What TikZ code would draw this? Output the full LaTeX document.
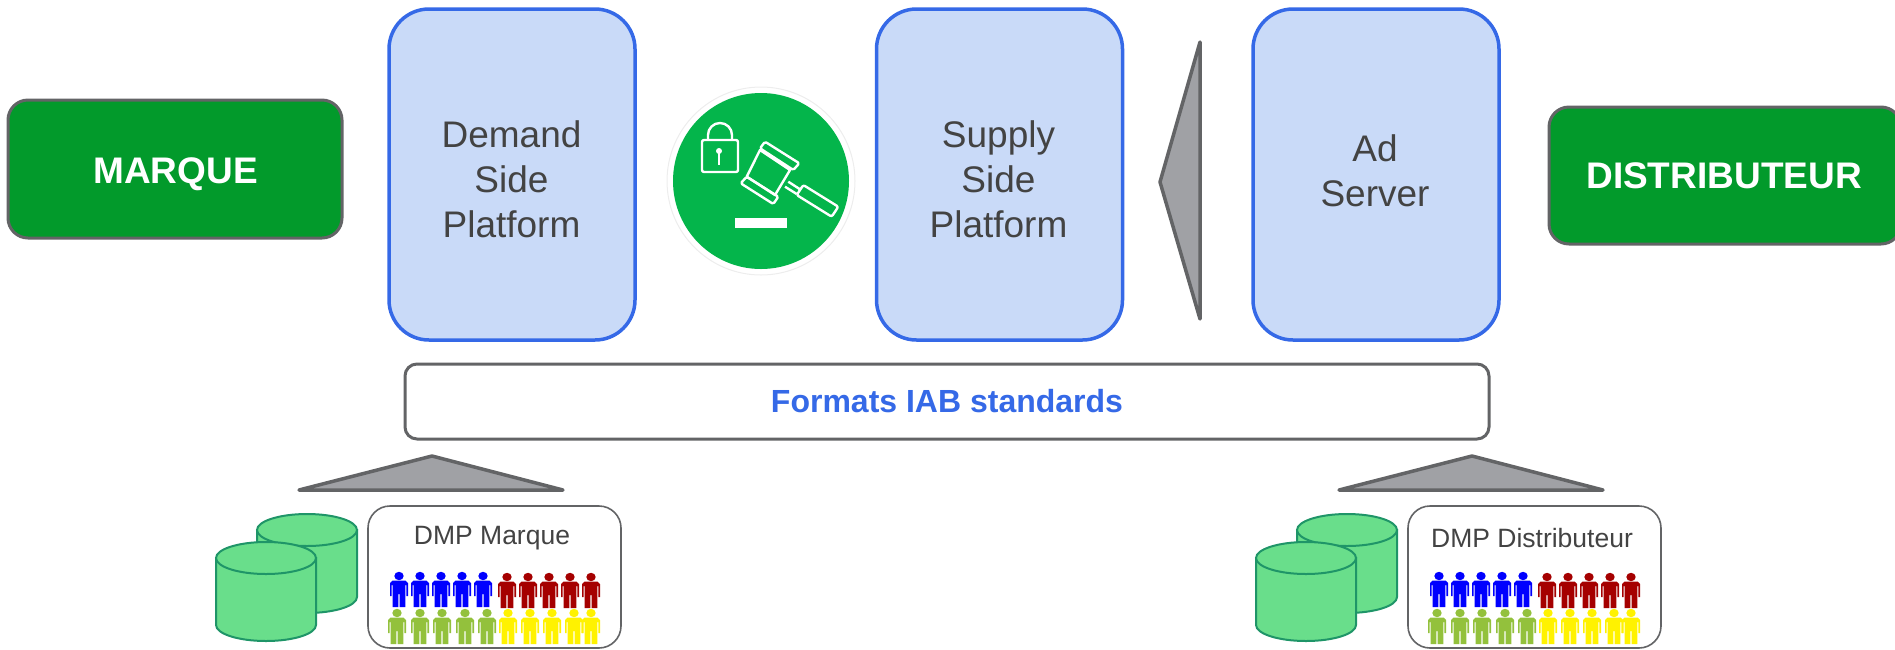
\documentclass[tikz,border=0pt]{standalone}
\usepackage{fontspec}
\setmainfont{Liberation Sans}
\definecolor{platformfill}{HTML}{C9DAF8}
\definecolor{platformline}{HTML}{3569E7}
\definecolor{actorfill}{HTML}{029A2B}
\definecolor{darkline}{HTML}{636466}
\definecolor{arrowfill}{HTML}{A0A1A5}
\definecolor{textgray}{HTML}{434343}
\definecolor{gavelgreen}{HTML}{04B54B}
\definecolor{cylfill}{HTML}{69DE8B}
\definecolor{cylline}{HTML}{1F9568}
\definecolor{crowdred}{HTML}{A50000}
\definecolor{crowdgreen}{HTML}{93C13C}
\tikzset{
	platform/.style={draw=platformline, fill=platformfill, line width=3.5pt, rounded corners=40pt, minimum width=246pt, minimum height=331pt, outer sep=0pt, inner sep=0pt},
	platformtext/.style={align=center, text=textgray, font=\fontsize{37}{44.8}\selectfont, inner sep=0pt},
	actor/.style={draw=darkline, fill=actorfill, line width=3pt, rounded corners=20pt, outer sep=0pt, inner sep=0pt},
	actortext/.style={text=white, font=\fontsize{37}{44}\selectfont\bfseries, inner sep=0pt},
	wedge/.style={draw=darkline, fill=arrowfill, line width=3.5pt, line join=round, line cap=round},
	dmpbox/.style={draw=darkline, fill=white, line width=1.6pt, rounded corners=22pt, minimum width=253pt, minimum height=142pt, outer sep=0pt, inner sep=0pt},
	dmptext/.style={text=textgray, font=\fontsize{26.5}{30}\selectfont, inner sep=0pt},
	cyl/.style={draw=cylline, fill=cylfill, line width=2pt},
	iconline/.style={draw=white, line width=2.4pt, line join=round}
}
\def\cylinder(#1,#2){
	\draw[cyl] (#1-50, #2) -- (#1-50, #2+67) arc[start angle=180, end angle=360, x radius=50pt, y radius=16pt] -- (#1+50, #2) -- cycle;
	\draw[cyl] (#1, #2) ellipse[x radius=50pt, y radius=16pt];
}
\def\personfig(#1,#2)#3{
	\fill[#3] (#1, #2+4) ellipse[x radius=4.7pt, y radius=4.2pt];
	\fill[#3] (#1-6.5, #2+8.5) -- (#1+6.5, #2+8.5) -- (#1+9, #2+11) -- (#1+9, #2+24) -- (#1+7.3, #2+24) -- (#1+7.3, #2+13) -- (#1+6.3, #2+13) -- (#1+6.3, #2+35) -- (#1+0.6, #2+35) -- (#1+0.6, #2+22) -- (#1-0.6, #2+22) -- (#1-0.6, #2+35) -- (#1-6.3, #2+35) -- (#1-6.3, #2+13) -- (#1-7.3, #2+13) -- (#1-7.3, #2+24) -- (#1-9, #2+24) -- (#1-9, #2+11) -- cycle;
}

\begin{document}
\begin{tikzpicture}[x=1pt, y=-1pt]
	\useasboundingbox (0, 0) rectangle (1895, 649);
	
	% platforms
	\node[platform] (demand) at (512, 174.5) {};
	\node[platformtext] (demandtext) at (511.5, 179) {Demand\\Side\\Platform};
	\node[platform] (supply) at (999.5, 174.5) {};
	\node[platformtext] (supplytext) at (998.5, 179) {Supply\\Side\\Platform};
	\node[platform] (adserver) at (1376, 174.5) {};
	\node[platformtext] (adservertext) at (1375, 171) {Ad\\Server};
	
	% the two ends
	\node[actor, minimum width=334pt, minimum height=138pt] (marque) at (175, 169) {};
	\node[actortext] (marquetext) at (175.5, 174) {MARQUE};
	\node[actor, minimum width=352pt, minimum height=137pt] (distributeur) at (1725, 175.5) {};
	\node[actortext] (distributeurtext) at (1724, 175.5) {DISTRIBUTEUR};
	
	\node[draw=darkline, fill=white, line width=3pt, rounded corners=12pt, minimum width=1084pt, minimum height=75pt, text=platformline, font=\fontsize{32}{36}\selectfont\bfseries, outer sep=0pt] (formats) at (947, 401.5) {Formats IAB standards};
	
	% arrow between supply side and ad server
	\draw[wedge] (1200, 42) -- (1160, 182) -- (1200, 319) -- cycle;
	
	% auction badge
	\draw[draw=black!7, fill=white, line width=1pt] (761, 181) circle (94pt);
	\fill[gavelgreen] (761, 181) circle (88pt);
	\draw[iconline, rounded corners=2pt] (702, 140) rectangle (738, 172);
	\draw[iconline] (708, 140) -- (708, 135) arc[start angle=180, end angle=0, x radius=12pt, y radius=12pt] -- (732, 140);
	\fill[white] (719, 151) circle (3pt);
	\draw[white, line width=2.4pt] (719, 151) -- (719, 165);
	\draw[iconline, rounded corners=1.5pt] (765, 141.7) -- (799.3, 163.3) -- (793.3, 170) -- (760, 148.3) -- cycle;
	\draw[iconline] (760, 150) -- (790, 170) -- (775, 195) -- (746.7, 176.7) -- cycle;
	\draw[iconline, rounded corners=1.5pt] (746.7, 176.7) -- (778.3, 196.7) -- (773.3, 204) -- (740.7, 183.3) -- cycle;
	\draw[iconline, rounded corners=2pt] (803.3, 185) -- (838.3, 206.7) -- (831.7, 216.7) -- (796.7, 195) -- cycle;
	\draw[iconline] (788.3, 181.7) -- (800, 189.3);
	\draw[iconline] (785, 186.7) -- (796.7, 194);
	\fill[white] (735, 218.3) rectangle (787.3, 228.3);
	
	% data management groups
	\foreach \dx/\dmpname/\dmplabel in {0/dmpmarque/DMP Marque, 1040/dmpdistrib/DMP Distributeur} {
		\draw[wedge] (299+\dx, 490) -- (432+\dx, 456) -- (563+\dx, 490) -- cycle;
		\cylinder(307+\dx, 530)
		\cylinder(266+\dx, 558)
		\node[dmpbox] (\dmpname) at (494.5+\dx, 577) {};
		\node[dmptext] (\dmpname text) at (492+\dx, 538.5) {\dmplabel};
		\foreach \px in {399, 420, 441, 462, 483} {\personfig(\px+\dx, 572){blue}}
		\foreach \px in {507, 528, 549, 570, 591} {\personfig(\px+\dx, 573){crowdred}}
		\foreach \px in {397, 420, 442, 465, 487} {\personfig(\px+\dx, 609){crowdgreen}}
		\foreach \px in {508, 530, 552, 574, 591} {\personfig(\px+\dx, 609){yellow}}
	}
\end{tikzpicture}
\end{document}
